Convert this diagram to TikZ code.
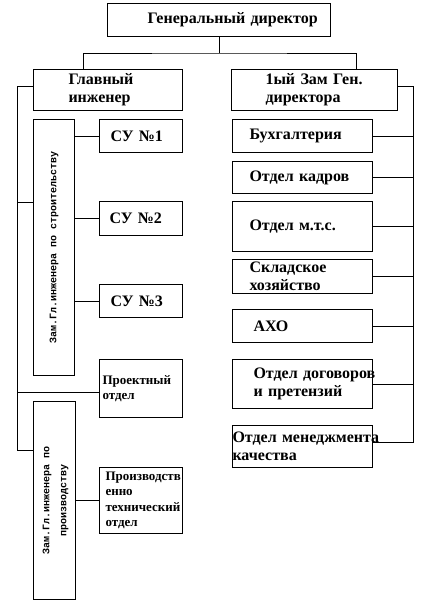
\documentclass[tikz,border=0pt]{standalone}
\usepackage{fontspec}
\setmainfont{Liberation Serif}
\setmonofont{Liberation Mono}
\usepackage{graphicx}
\usetikzlibrary{positioning}

\begin{document}
\begin{tikzpicture}[
  x=1pt, y=1pt, line width=1pt,
  box/.style={draw, anchor=north west, inner xsep=0pt, inner ysep=0pt, align=left, font=\bfseries\fontsize{16}{18}\selectfont},
  sbox/.style={box, font=\bfseries\fontsize{13}{15.5}\selectfont},
  vbox/.style={draw, anchor=north west, inner sep=0pt, align=center, font=\ttfamily\bfseries\fontsize{10}{17}\selectfont}
]
\useasboundingbox (0,0) rectangle (422,-616);

\node[box, minimum width=223pt, minimum height=33pt, text width=143pt] (gd) at (107,-3) {Генеральный~директор};

\node[box, minimum width=149pt, minimum height=41pt, text width=79pt] (gi) at (33,-69) {Главный\\инженер};
\node[box, minimum width=166pt, minimum height=41pt, text width=98pt] (zg) at (231,-69) {1ый~Зам~Ген.\\директора};

% left branch
\node[vbox, minimum width=41pt, minimum height=256pt] (zs) at (33,-119) {\rotatebox{90}{Зам.Гл.инженера по строительству}};
\node[box, minimum width=83pt, minimum height=33pt, text width=61pt] (su1) at (99,-119) {СУ~№1};
\node[box, minimum width=83pt, minimum height=34pt, text width=63pt] (su2) at (99,-201) {СУ~№2};
\node[box, minimum width=83pt, minimum height=33pt, text width=61pt] (su3) at (99,-284) {СУ~№3};
\node[sbox, minimum width=83pt, minimum height=58pt, text width=77pt] (pr) at (99,-359) {Проектный\\отдел};
\node[vbox, minimum width=42pt, minimum height=198pt] (zp) at (33,-401) {\rotatebox{90}{\begin{tabular}{@{}c@{}}Зам.Гл.инженера по\\производству\end{tabular}}};
\node[sbox, minimum width=83pt, minimum height=66pt, text width=71pt] (pt) at (99,-467) {Производств\\енно\\технический\\отдел};

% right branch
\node[box, minimum width=140pt, minimum height=33pt, text width=106pt] (bu) at (232,-119) {Бухгалтерия};
\node[box, minimum width=140pt, minimum height=32pt, text width=106pt] (ok) at (232,-161) {Отдел~кадров};
\node[box, minimum width=140pt, minimum height=50pt, text width=106pt] (mts) at (232,-201) {Отдел~м.т.с.};
\node[box, minimum width=140pt, minimum height=34pt, text width=106pt] (sk) at (232,-259) {Складское\\хозяйство};
\node[box, minimum width=140pt, minimum height=33pt, text width=98pt] (axo) at (232,-309) {АХО};
\node[box, minimum width=140pt, minimum height=49pt, text width=98pt] (dog) at (232,-359) {Отдел~договоров\\и~претензий};
\node[box, minimum width=140pt, minimum height=42pt, text width=140pt] (om) at (232,-425) {Отдел~менеджмента\\качества};

\coordinate (j) at ([yshift=-16pt]gd.south);
\coordinate (lt) at (17,-450);
\coordinate (rt) at (413,-442);

\draw (gd.south) -- (j);
\draw ([xshift=50pt]gi.north west) |- (j) -| ([xshift=125pt]zg.north west);

\draw ([yshift=3.5pt]gi.west) -| (lt) -- (lt -| zp.west);
\draw ([yshift=45pt]zs.west) coordinate (zsb) -- (zsb -| lt);
\draw ([yshift=-4pt]pr.west) coordinate (prb) -- (prb -| lt);
\draw (su1.west) -- (su1.west -| zs.east);
\draw (su2.west) -- (su2.west -| zs.east);
\draw (su3.west) -- (su3.west -| zs.east);
\draw (pt.west) -- (pt.west -| zp.east);

\draw ([yshift=3.5pt]zg.east) -| (rt) -- (rt -| om.east);
\draw (bu.east) -- (bu.east -| rt);
\draw (ok.east) -- (ok.east -| rt);
\draw (mts.east) -- (mts.east -| rt);
\draw (sk.east) -- (sk.east -| rt);
\draw (axo.east) -- (axo.east -| rt);
\draw (dog.east) -- (dog.east -| rt);
\end{tikzpicture}
\end{document}
